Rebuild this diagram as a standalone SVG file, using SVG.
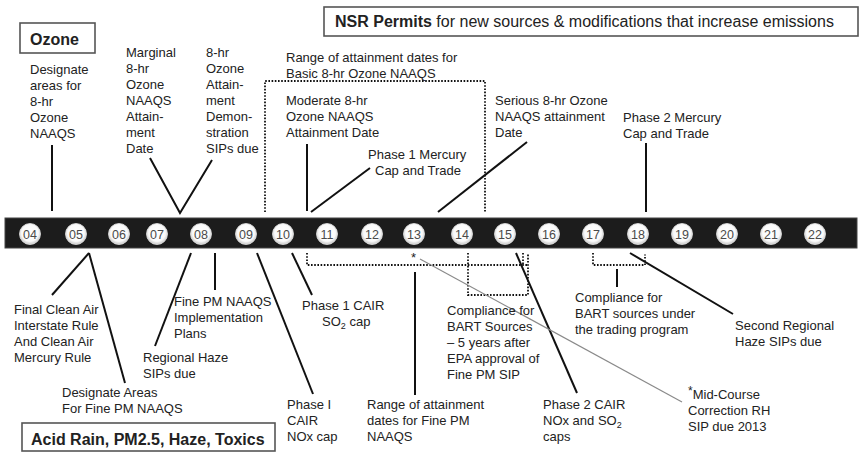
<svg xmlns="http://www.w3.org/2000/svg" width="863" height="453" viewBox="0 0 863 453">
<style>
  text { font-family: "Liberation Sans", Arial, sans-serif; fill: #222; }
  .lbl { font-size: 13px; }
  .hd { font-size: 16px; font-weight: bold; }
  .hdr { font-size: 16px; font-weight: normal; }
  .box { fill: #fff; stroke: #555; stroke-width: 1.6; }
  .ln { stroke: #111; stroke-width: 2; fill: none; }
  .dot { stroke: #111; stroke-width: 1.8; stroke-dasharray: 1.6 1.6; fill: none; }
  .thin { stroke: #8a8a8a; stroke-width: 1.2; fill: none; }
  .yr { font-size: 12.5px; fill: #4a4a4a; text-anchor: middle; }
  .yc { fill: url(#ball); stroke: #e6e6e6; stroke-width: 0.8; }
</style>
<defs>
  <radialGradient id="ball" cx="0.5" cy="0.45" r="0.55">
    <stop offset="0" stop-color="#ffffff"/>
    <stop offset="0.72" stop-color="#fafafa"/>
    <stop offset="1" stop-color="#c4c4c4"/>
  </radialGradient>
</defs>
<rect width="863" height="453" fill="#fff"/>

<g id="nsr-box">
  <rect class="box" x="324" y="7" width="534" height="29"/>
  <text x="335" y="27" class="hd">NSR Permits<tspan class="hdr"> for new sources &amp; modifications that increase emissions</tspan></text>
</g>
<g id="ozone-box">
  <rect class="box" x="20" y="23" width="75" height="30"/>
  <text x="30" y="45" class="hd">Ozone</text>
</g>
<g id="acid-box">
  <rect class="box" x="22" y="423" width="253" height="28"/>
  <text x="31" y="445" class="hd">Acid Rain, PM2.5, Haze, Toxics</text>
</g>

<g id="timeline">
  <rect x="5" y="218" width="852" height="30" fill="#1c1c1c" stroke="#444" stroke-width="1"/>
  <g id="y04"><circle class="yc" cx="30" cy="234" r="10.5"/><text class="yr" x="30" y="238.5">04</text></g>
  <g id="y05"><circle class="yc" cx="76" cy="234" r="10.5"/><text class="yr" x="76" y="238.5">05</text></g>
  <g id="y06"><circle class="yc" cx="119" cy="234" r="10.5"/><text class="yr" x="119" y="238.5">06</text></g>
  <g id="y07"><circle class="yc" cx="157" cy="234" r="10.5"/><text class="yr" x="157" y="238.5">07</text></g>
  <g id="y08"><circle class="yc" cx="201" cy="234" r="10.5"/><text class="yr" x="201" y="238.5">08</text></g>
  <g id="y09"><circle class="yc" cx="246" cy="234" r="10.5"/><text class="yr" x="246" y="238.5">09</text></g>
  <g id="y10"><circle class="yc" cx="283" cy="234" r="10.5"/><text class="yr" x="283" y="238.5">10</text></g>
  <g id="y11"><circle class="yc" cx="327" cy="234" r="10.5"/><text class="yr" x="327" y="238.5">11</text></g>
  <g id="y12"><circle class="yc" cx="372" cy="234" r="10.5"/><text class="yr" x="372" y="238.5">12</text></g>
  <g id="y13"><circle class="yc" cx="414" cy="234" r="10.5"/><text class="yr" x="414" y="238.5">13</text></g>
  <g id="y14"><circle class="yc" cx="462" cy="234" r="10.5"/><text class="yr" x="462" y="238.5">14</text></g>
  <g id="y15"><circle class="yc" cx="505" cy="234" r="10.5"/><text class="yr" x="505" y="238.5">15</text></g>
  <g id="y16"><circle class="yc" cx="549" cy="234" r="10.5"/><text class="yr" x="549" y="238.5">16</text></g>
  <g id="y17"><circle class="yc" cx="593" cy="234" r="10.5"/><text class="yr" x="593" y="238.5">17</text></g>
  <g id="y18"><circle class="yc" cx="638" cy="234" r="10.5"/><text class="yr" x="638" y="238.5">18</text></g>
  <g id="y19"><circle class="yc" cx="682" cy="234" r="10.5"/><text class="yr" x="682" y="238.5">19</text></g>
  <g id="y20"><circle class="yc" cx="727" cy="234" r="10.5"/><text class="yr" x="727" y="238.5">20</text></g>
  <g id="y21"><circle class="yc" cx="771" cy="234" r="10.5"/><text class="yr" x="771" y="238.5">21</text></g>
  <g id="y22"><circle class="yc" cx="815" cy="234" r="10.5"/><text class="yr" x="815" y="238.5">22</text></g>
</g>

<g id="connectors">
  <line class="ln" x1="52" y1="145" x2="52" y2="211"/>
  <polyline class="ln" points="150,158 180,213 212,160"/>
  <path class="dot" d="M265,212 V81 H485 V213"/>
  <line class="ln" x1="307" y1="144" x2="307" y2="211"/>
  <line class="ln" x1="311" y1="212" x2="370" y2="168"/>
  <line class="ln" x1="438" y1="212" x2="527" y2="142"/>
  <line class="ln" x1="646" y1="143" x2="646" y2="212"/>

  <line class="ln" x1="89" y1="253" x2="52" y2="295"/>
  <line class="ln" x1="89" y1="253" x2="125" y2="383"/>
  <line class="ln" x1="191" y1="253" x2="155" y2="346"/>
  <line class="ln" x1="215" y1="253" x2="215" y2="290"/>
  <line class="ln" x1="257" y1="253" x2="313" y2="394"/>
  <line class="ln" x1="292" y1="253" x2="312" y2="295"/>
  <path class="dot" d="M307,253 V265 H528"/>
  <path class="dot" d="M468,253 V295 H528 V253"/>
  <line class="dot" x1="523" y1="253" x2="523" y2="265"/>
  <line class="ln" x1="415" y1="272" x2="415" y2="395"/>
  <line class="ln" x1="516" y1="253" x2="577" y2="393"/>
  <path class="dot" d="M593,253 V265 H645 V253"/>
  <line class="ln" x1="617" y1="269" x2="617" y2="287"/>
  <line class="ln" x1="630" y1="253" x2="733" y2="314"/>
  <line class="thin" x1="420" y1="259" x2="682" y2="402"/>
</g>

<g id="n-designate-ozone"><text class="lbl" y="74"><tspan x="30">Designate</tspan><tspan x="30" dy="16">areas for</tspan><tspan x="30" dy="16">8-hr</tspan><tspan x="30" dy="16">Ozone</tspan><tspan x="30" dy="16">NAAQS</tspan></text></g>
<g id="n-marginal"><text class="lbl" y="57"><tspan x="126">Marginal</tspan><tspan x="126" dy="16">8-hr</tspan><tspan x="126" dy="16">Ozone</tspan><tspan x="126" dy="16">NAAQS</tspan><tspan x="126" dy="16">Attain-</tspan><tspan x="126" dy="16">ment</tspan><tspan x="126" dy="16">Date</tspan></text></g>
<g id="n-demo-sips"><text class="lbl" y="57"><tspan x="206">8-hr</tspan><tspan x="206" dy="16">Ozone</tspan><tspan x="206" dy="16">Attain-</tspan><tspan x="206" dy="16">ment</tspan><tspan x="206" dy="16">Demon-</tspan><tspan x="206" dy="16">stration</tspan><tspan x="206" dy="16">SIPs due</tspan></text></g>
<g id="n-range-basic"><text class="lbl" y="62"><tspan x="286">Range of attainment dates for</tspan><tspan x="286" dy="16">Basic 8-hr Ozone NAAQS</tspan></text></g>
<g id="n-moderate"><text class="lbl" y="105"><tspan x="286">Moderate 8-hr</tspan><tspan x="286" dy="16">Ozone NAAQS</tspan><tspan x="286" dy="16">Attainment Date</tspan></text></g>
<g id="n-phase1-mercury"><text class="lbl" y="159"><tspan x="368">Phase 1 Mercury</tspan><tspan x="375" dy="16">Cap and Trade</tspan></text></g>
<g id="n-serious"><text class="lbl" y="105"><tspan x="495">Serious 8-hr Ozone</tspan><tspan x="495" dy="16">NAAQS attainment</tspan><tspan x="495" dy="16">Date</tspan></text></g>
<g id="n-phase2-mercury"><text class="lbl" y="122"><tspan x="623">Phase 2 Mercury</tspan><tspan x="623" dy="16">Cap and Trade</tspan></text></g>

<g id="n-cair-rule"><text class="lbl" y="314"><tspan x="14">Final Clean Air</tspan><tspan x="14" dy="16">Interstate Rule</tspan><tspan x="14" dy="16">And Clean Air</tspan><tspan x="14" dy="16">Mercury Rule</tspan></text></g>
<g id="n-designate-pm"><text class="lbl" y="397"><tspan x="62">Designate Areas</tspan><tspan x="62" dy="16">For Fine PM NAAQS</tspan></text></g>
<g id="n-regional-haze"><text class="lbl" y="362"><tspan x="143">Regional Haze</tspan><tspan x="143" dy="16">SIPs due</tspan></text></g>
<g id="n-finepm-plans"><text class="lbl" y="306"><tspan x="174">Fine PM NAAQS</tspan><tspan x="174" dy="16">Implementation</tspan><tspan x="174" dy="16">Plans</tspan></text></g>
<g id="n-phase1-nox"><text class="lbl" y="409"><tspan x="287">Phase I</tspan><tspan x="287" dy="16">CAIR</tspan><tspan x="287" dy="16">NOx cap</tspan></text></g>
<g id="n-phase1-so2"><text class="lbl" y="310"><tspan x="302">Phase 1 CAIR</tspan><tspan x="322" dy="16">SO</tspan><tspan font-size="9" dy="3">2</tspan><tspan dy="-3"> cap</tspan></text></g>
<g id="n-range-finepm"><text class="lbl" y="409"><tspan x="367">Range of attainment</tspan><tspan x="367" dy="16">dates for Fine PM</tspan><tspan x="367" dy="16">NAAQS</tspan></text></g>
<g id="n-bart-5yr"><text class="lbl" y="315"><tspan x="447">Compliance for</tspan><tspan x="447" dy="16">BART Sources</tspan><tspan x="447" dy="16">– 5 years after</tspan><tspan x="447" dy="16">EPA approval of</tspan><tspan x="447" dy="16">Fine PM SIP</tspan></text></g>
<g id="n-phase2-cair"><text class="lbl" y="409"><tspan x="543">Phase 2 CAIR</tspan><tspan x="543" dy="16">NOx and SO</tspan><tspan font-size="9" dy="3">2</tspan><tspan x="543" dy="13">caps</tspan></text></g>
<g id="n-bart-trading"><text class="lbl" y="302"><tspan x="575">Compliance for</tspan><tspan x="575" dy="16">BART sources under</tspan><tspan x="575" dy="16">the trading program</tspan></text></g>
<g id="n-second-haze"><text class="lbl" y="330"><tspan x="735">Second Regional</tspan><tspan x="735" dy="16">Haze SIPs due</tspan></text></g>
<g id="n-midcourse">
  <text class="lbl" x="411" y="262" font-size="12">*</text>
  <text class="lbl" y="399"><tspan x="688" font-size="12" dy="-4">*</tspan><tspan dy="4">Mid-Course</tspan><tspan x="688" dy="16">Correction RH</tspan><tspan x="688" dy="16">SIP due 2013</tspan></text>
</g>
</svg>
